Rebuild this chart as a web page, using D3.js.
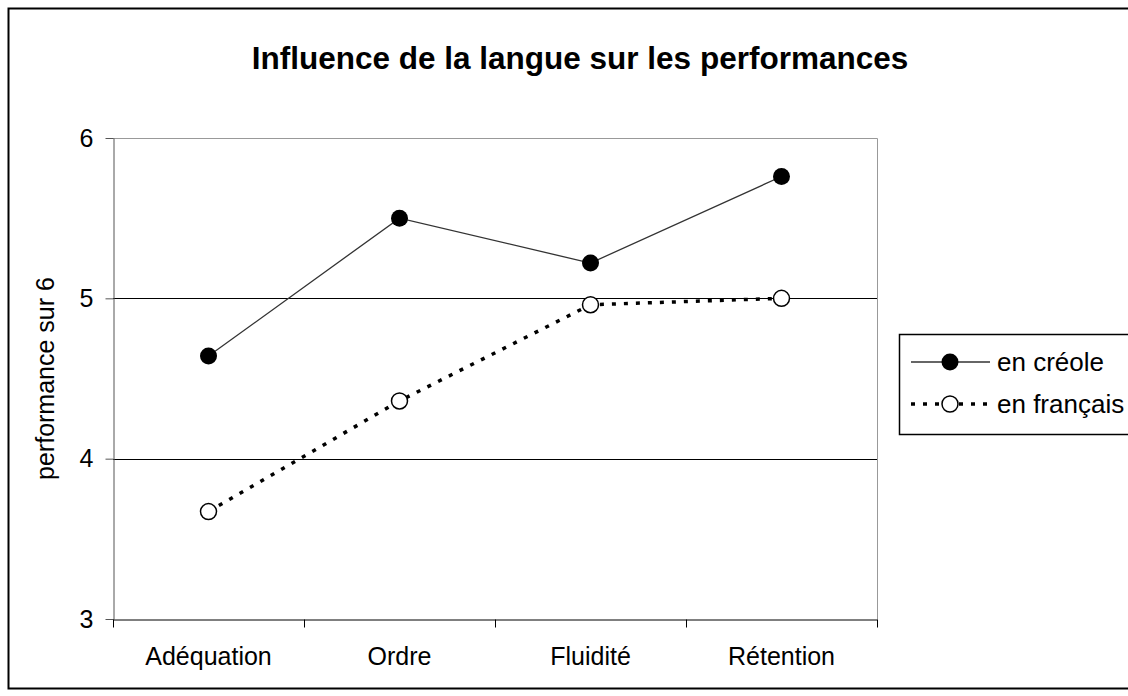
<!DOCTYPE html>
<html lang="fr">
<head>
<meta charset="utf-8">
<title>Influence de la langue sur les performances</title>
<style>
body { margin: 0; background: #fff; }
svg { display: block; font-family: "Liberation Sans", Arial, sans-serif; }
.axis text { font-size: 25px; fill: #000; }
</style>
</head>
<body>
<svg width="1128" height="696"></svg>
<script src="https://cdn.jsdelivr.net/npm/d3@7/dist/d3.min.js"></script>
<script>

const categories = ['Adéquation', 'Ordre', 'Fluidité', 'Rétention'];
const creole = [4.64, 5.50, 5.22, 5.76];
const francais = [3.67, 4.36, 4.96, 5.00];
const yTicks = [3, 4, 5, 6];
const seriesNames = ['en créole', 'en français'];

var svg = d3.select('svg'),
    plot = {left: 113, right: 877, top: 138, bottom: 619};

// outer frame
svg.append('rect')
    .attr('x', 8.5).attr('y', 8.5)
    .attr('width', 1130).attr('height', 680)
    .attr('fill', 'none').attr('stroke', '#000').attr('stroke-width', 2);

svg.append('text')
    .attr('x', 580).attr('y', 69)
    .attr('text-anchor', 'middle')
    .attr('font-size', 31.5).attr('font-weight', 'bold')
    .text('Influence de la langue sur les performances');

let x = d3.scaleBand().domain(categories).range([plot.left, plot.right]);
let y = d3.scaleLinear().domain([3, 6]).range([plot.bottom, plot.top]);

// gridlines (not at the ends)
svg.append('g')
  .selectAll('line')
  .data(yTicks.filter(d => d > 3 && d < 6))
  .enter().append('line')
    .attr('x1', plot.left).attr('x2', plot.right)
    .attr('y1', d => Math.round(y(d)) + 0.5).attr('y2', d => Math.round(y(d)) + 0.5)
    .attr('stroke', '#000');

// top and right of plot box
svg.append('path')
    .attr('d', 'M' + plot.left + ',' + (plot.top + 0.5) + 'H' + (plot.right + 0.5) + 'V' + plot.bottom)
    .attr('fill', 'none').attr('stroke', '#999');

// y axis
let yAxis = svg.append('g')
    .attr('class', 'axis')
    .attr('transform', 'translate(' + (plot.left + 0.5) + ',0)')
    .call(d3.axisLeft(y).tickValues(yTicks).tickFormat(d3.format('d')).tickSize(8).tickPadding(12).tickSizeOuter(0));
yAxis.select('.domain').attr('stroke', '#555');
yAxis.selectAll('line').attr('stroke', '#555');

// x axis, ticks between categories
let xAxis = svg.append('g')
    .attr('class', 'axis')
    .attr('transform', 'translate(0,' + (plot.bottom + 0.5) + ')')
    .call(d3.axisBottom(x).tickSize(0).tickPadding(28).tickSizeOuter(0));
xAxis.select('.domain').attr('stroke', '#000');
xAxis.selectAll('.between')
  .data(d3.range(categories.length + 1))
  .enter().append('line')
    .attr('class', 'between')
    .attr('x1', i => Math.round(plot.left + i * x.step()) + 0.5)
    .attr('x2', i => Math.round(plot.left + i * x.step()) + 0.5)
    .attr('y1', 0).attr('y2', 8)
    .attr('stroke', '#000');

svg.append('text')
    .attr('transform', 'translate(54,' + ((plot.top + plot.bottom) / 2) + ') rotate(-90)')
    .attr('text-anchor', 'middle')
    .attr('font-size', 25)
    .text('performance sur 6');

let cx = c => x(c) + x.bandwidth() / 2;
let line = d3.line().x(d => cx(d[0])).y(d => y(d[1]));

let pairsC = categories.map((c, i) => [c, creole[i]]);
let pairsF = categories.map((c, i) => [c, francais[i]]);

svg.append('path')
    .attr('d', line(pairsC))
    .attr('fill', 'none').attr('stroke', '#333').attr('stroke-width', 1.3);

svg.append('path')
    .attr('d', line(pairsF))
    .attr('fill', 'none').attr('stroke', '#000').attr('stroke-width', 3.5)
    .attr('stroke-dasharray', '4,8');

svg.append('g').selectAll('circle')
  .data(pairsC).enter().append('circle')
    .attr('cx', d => cx(d[0])).attr('cy', d => y(d[1])).attr('r', 8.5)
    .attr('fill', '#000');

svg.append('g').selectAll('circle')
  .data(pairsF).enter().append('circle')
    .attr('cx', d => cx(d[0])).attr('cy', d => y(d[1])).attr('r', 8)
    .attr('fill', '#fff').attr('stroke', '#000').attr('stroke-width', 1.5);

// legend
let legend = svg.append('g');
legend.append('rect')
    .attr('x', 899.5).attr('y', 334.5)
    .attr('width', 240).attr('height', 100)
    .attr('fill', '#fff').attr('stroke', '#000').attr('stroke-width', 1.5);

let entries = legend.selectAll('.entry')
  .data(seriesNames)
  .enter().append('g')
    .attr('class', 'entry')
    .attr('transform', (d, i) => 'translate(0,' + (362 + i * 42) + ')');

entries.append('line')
    .attr('x1', 911).attr('x2', 990).attr('y1', 0).attr('y2', 0)
    .attr('stroke', (d, i) => i ? '#000' : '#333')
    .attr('stroke-width', (d, i) => i ? 3.5 : 1.3)
    .attr('stroke-dasharray', (d, i) => i ? '4,8' : null);

entries.append('circle')
    .attr('cx', 950).attr('cy', 0)
    .attr('r', (d, i) => i ? 8 : 8.5)
    .attr('fill', (d, i) => i ? '#fff' : '#000')
    .attr('stroke', (d, i) => i ? '#000' : null)
    .attr('stroke-width', 1.5);

entries.append('text')
    .attr('x', 997).attr('y', 0).attr('dy', '0.35em')
    .attr('font-size', 26)
    .text(d => d);

</script>
</body>
</html>
